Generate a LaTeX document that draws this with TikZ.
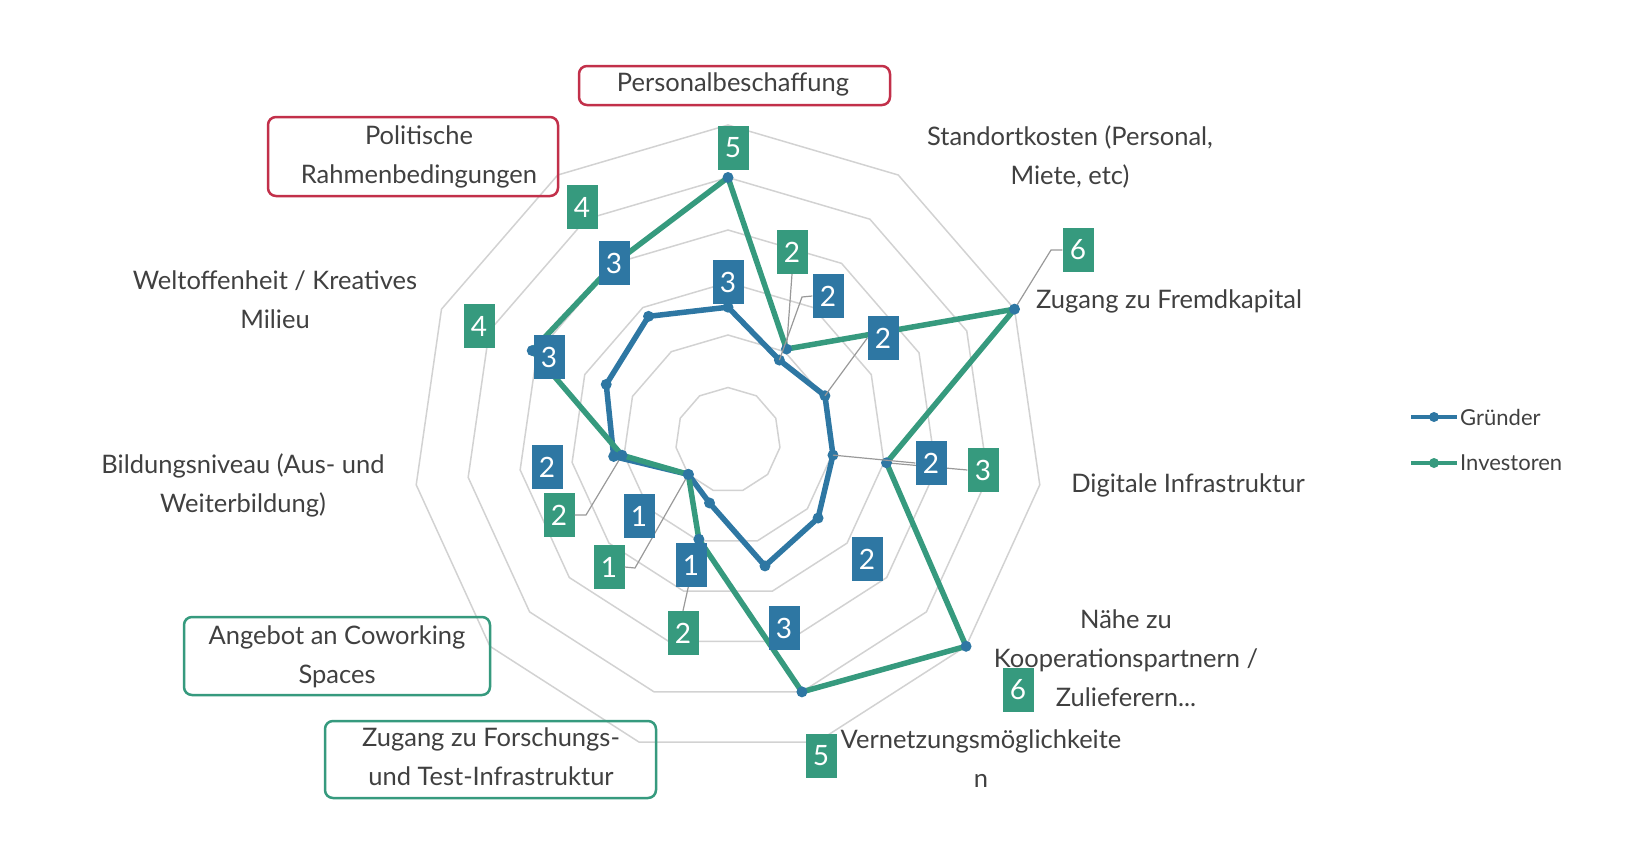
\documentclass[tikz,border=0pt]{standalone}
\usepackage{fontspec}
\setmainfont{Lato}
\usetikzlibrary{calc}
\begin{document}
\definecolor{cb}{HTML}{2E77A3}
\definecolor{cg}{HTML}{369A7E}
\definecolor{cr}{HTML}{C2304A}
\definecolor{tx}{HTML}{404040}
\definecolor{gr}{HTML}{D2D2D2}
\begin{tikzpicture}[x=1pt,y=-1pt,
  cat/.style={text=tx,font=\fontsize{25.5}{39}\selectfont,align=center,inner sep=0pt},
  hbox/.style={draw=#1,line width=2.5pt,rounded corners=8pt},
  lb/.style={fill=#1,text=white,font=\fontsize{28}{28}\selectfont,minimum width=31pt,minimum height=44pt,inner sep=0pt},
  ld/.style={draw=gray!80,line width=1.2pt},
  ser/.style={draw=#1,line width=5.5pt,line join=round},
  mk/.style={fill=cb,circle,inner sep=0pt,minimum size=11pt}]
\useasboundingbox (0,0) rectangle (1633,844);
\def\cx{728}\def\cy{440}\def\u{52.5}
% grid rings
\foreach \r in {1,...,6}{
  \draw[gr,line width=1.5pt] ({\cx},{\cy-\r*\u})
  \foreach \k in {1,...,10}{ -- ({\cx+\r*\u*sin(\k*360/11)},{\cy-\r*\u*cos(\k*360/11)}) } -- cycle;}
% data
\foreach \v [count=\k from 0] in {2.53,1.81,2.03,2.02,2.27,2.5,1.25,1.0,2.2,2.55,2.8}
  \coordinate (g\k) at ({\cx+\v*\u*sin(\k*360/11)},{\cy-\v*\u*cos(\k*360/11)});
\foreach \v [count=\k from 0] in {5,2.06,6,3.05,6,5,1.97,1,2.04,4.1,4}
  \coordinate (i\k) at ({\cx+\v*\u*sin(\k*360/11)},{\cy-\v*\u*cos(\k*360/11)});
% label boxes
\node[lb=cg] (li0) at (733,148) {5};
\node[lb=cg] (li1) at (792,252) {2};
\node[lb=cg] (li2) at (1078,250) {6};
\node[lb=cg] (li3) at (983,470) {3};
\node[lb=cg] (li4) at (1018,690) {6};
\node[lb=cg] (li5) at (821,756) {5};
\node[lb=cg] (li6) at (683,633) {2};
\node[lb=cg] (li7) at (609,567) {1};
\node[lb=cg] (li8) at (559,515) {2};
\node[lb=cg] (li9) at (479,326) {4};
\node[lb=cg] (li10) at (582,207) {4};
% leaders
\coordinate (a1) at (802,297);\coordinate (a2) at (1051,250);
\coordinate (a7) at (635,568);\coordinate (a8) at (586,515);
\draw[ld] (li1.south) -- (i1);
\draw[ld] (li2.west) -- (a2) -- (i2);
\draw[ld] (li3.west) -- (i3);
\draw[ld] (li6.north) -- (i6);
\draw[ld] (li7.east) -- (a7) -- (i7);
\draw[ld] (li8.east) -- (a8) -- (i8);
% series
\draw[ser=cb] (g0) \foreach \k in {1,...,10}{ -- (g\k)} -- cycle;
\draw[ser=cg] (i0) \foreach \k in {1,...,10}{ -- (i\k)} -- cycle;
\foreach \k in {0,...,10}{\node[mk] at (g\k){};\node[mk] at (i\k){};}
\node[lb=cb] (lg0) at (728,282) {3};
\node[lb=cb] (lg1) at (828,296) {2};
\node[lb=cb] (lg2) at (883,338) {2};
\node[lb=cb] (lg3) at (931,463) {2};
\node[lb=cb] (lg4) at (867,559) {2};
\node[lb=cb] (lg5) at (784,628) {3};
\node[lb=cb] (lg6) at (691,565) {1};
\node[lb=cb] (lg7) at (639,516) {1};
\node[lb=cb] (lg8) at (547,467) {2};
\node[lb=cb] (lg9) at (549,357) {3};
\node[lb=cb] (lg10) at (614,263) {3};
\draw[ld] (lg1.west) -- (a1) -- (g1);
\draw[ld] (lg2.west) -- (g2);
\draw[ld] (lg3.west) -- (g3);
% categories
\node[cat] (c0) at (733,84) {Personalbeschaffung};
\draw[hbox=cr] (579,66) rectangle (890,105);
\node[cat] (c1) at (1070,157) {Standortkosten (Personal,\\Miete, etc)};
\node[cat,anchor=west] (c2) at (1036,301) {Zugang zu Fremdkapital};
\node[cat] (c3) at (1188,485) {Digitale Infrastruktur};
\node[cat] (c4) at (1126,658) {Nähe zu\\Kooperationspartnern /\\Zulieferern...};
\node[cat] (c5) at (981,759) {Vernetzungsmöglichkeite\\n};
\node[cat] (c6) at (491,757) {Zugang zu Forschungs-\\und Test-Infrastruktur};
\draw[hbox=cg] (325,721) rectangle (656,798);
\node[cat] (c7) at (337,657) {Angebot an Coworking\\Spaces};
\draw[hbox=cg] (184,617) rectangle (490,695);
\node[cat] (c8) at (243,485) {Bildungsniveau (Aus- und\\Weiterbildung)};
\node[cat] (c9) at (275,300) {Weltoffenheit / Kreatives\\Milieu};
\node[cat] (c10) at (419,157) {Politische\\Rahmenbedingungen};
\draw[hbox=cr] (268,117) rectangle (558,196);
% legend
\coordinate (L1a) at (1411,417);\coordinate (L1b) at (1457,417);
\coordinate (L2a) at (1411,463);\coordinate (L2b) at (1457,463);
\draw[ser=cb,line width=4.5pt] (L1a) -- (L1b);
\draw[ser=cg,line width=4.5pt] (L2a) -- (L2b);
\node[mk,minimum size=10pt] at ($(L1a)!0.5!(L1b)$) {};
\node[mk,minimum size=10pt,fill=cg] at ($(L2a)!0.5!(L2b)$) {};
\node[cat,anchor=west,font=\fontsize{22}{22}\selectfont] at (1460,417) {Gründer};
\node[cat,anchor=west,font=\fontsize{22}{22}\selectfont] at (1460,463) {Investoren};
\end{tikzpicture}
\end{document}
